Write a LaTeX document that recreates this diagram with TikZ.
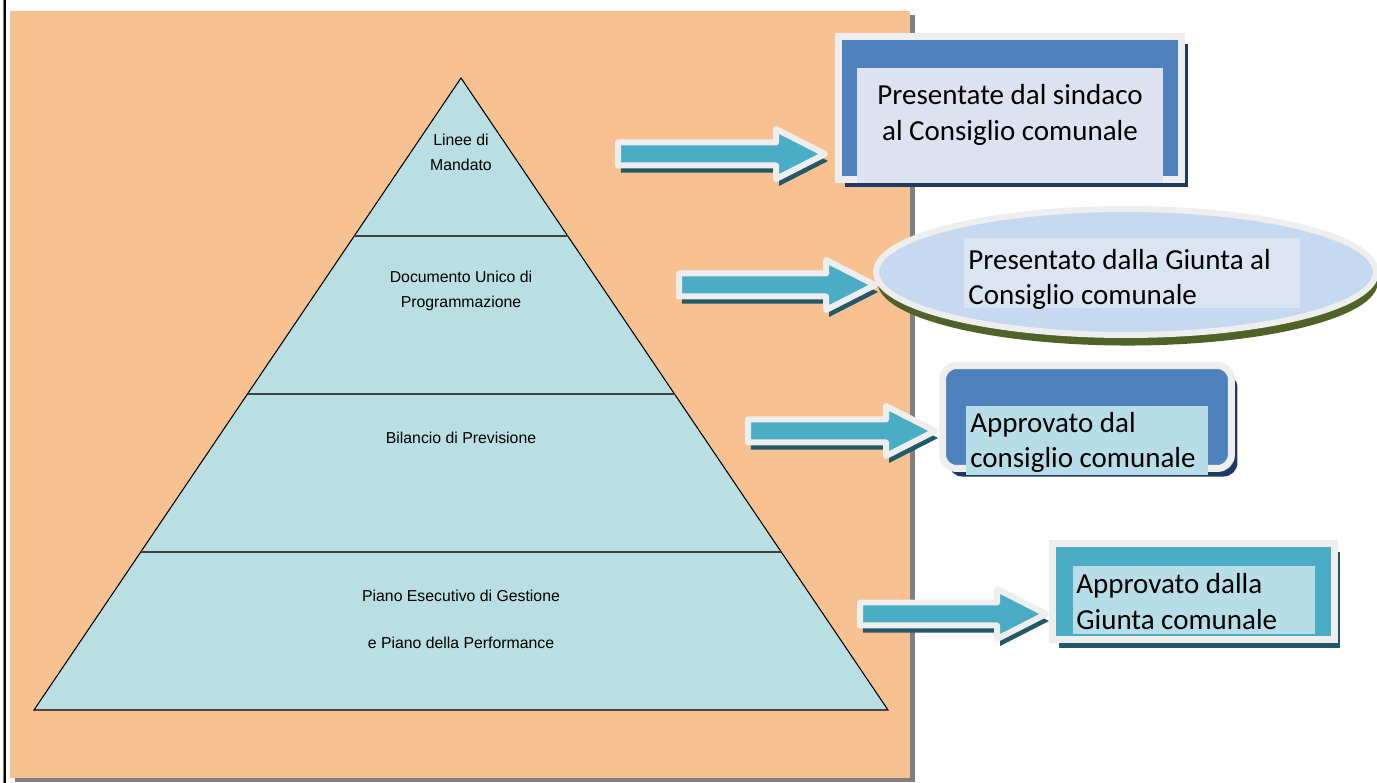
\documentclass[tikz,border=0pt]{standalone}
\usepackage{fontspec}
\setmainfont{Carlito}
\newfontfamily\pyrfont{Liberation Sans}
\usetikzlibrary{calc,positioning,shapes.geometric,shadows}
\definecolor{O}{HTML}{F8C191}
\definecolor{P}{HTML}{B9DFE2}
\definecolor{T}{HTML}{4BACC6}
\definecolor{TD}{HTML}{215968}
\definecolor{BL}{HTML}{4F81BD}
\definecolor{NV}{HTML}{1F3A60}
\definecolor{LV}{HTML}{DCE2EF}
\definecolor{LB}{HTML}{C6D9F1}
\definecolor{LB2}{HTML}{DBE5F1}
\definecolor{LT}{HTML}{B7DEE8}
\definecolor{GR}{HTML}{4F6228}
\definecolor{GY}{HTML}{EEEEEE}
\tikzstyle{layer} = [font=\pyrfont\fontsize{9}{14.2}\selectfont, align=center, inner sep=0pt]
\tikzstyle{boxtext} = [font=\fontsize{16.5}{20}\selectfont, inner sep=0pt]
\tikzstyle{frame} = [draw=GY, line width=0.14cm, inner sep=0pt]
\tikzstyle{panel} = [inner sep=0pt]
\tikzstyle{blockarr} = [fill=T, draw=GY, line width=0.12cm, line join=round,
  drop shadow={shadow xshift=1.7pt, shadow yshift=-4pt, fill=TD, opacity=1},
  to path={let \p1=(\tikztostart), \p2=(\tikztotarget) in
    (\x1,\y1+0.23cm) -- (\x2-0.98cm,\y1+0.23cm) -- (\x2-0.98cm,\y1+0.5cm) -- (\x2,\y1)
    -- (\x2-0.98cm,\y1-0.5cm) -- (\x2-0.98cm,\y1-0.23cm) -- (\x1,\y1-0.23cm) -- cycle}]

\begin{document}
\begin{tikzpicture}[x=0.02cm, y=-0.02cm]
  \useasboundingbox (0,0) rectangle (1377,783);

  % page background
  \fill[O, drop shadow={shadow xshift=2.8pt, shadow yshift=-2.3pt, fill=gray, opacity=1}] (10,11) rectangle (910,778);
  \draw[gray, line width=0.5pt] (3,0) -- (3,783);
  \draw[black, line width=0.6pt] (5,0) -- (5,783);

  % pyramid
  \coordinate (apex) at (461,78);
  \coordinate (bl)   at (34,710);
  \coordinate (br)   at (888,710);
  \draw[fill=P, line width=0.6pt] (apex) -- (bl) -- (br) -- cycle;
  \foreach \f in {0.25,0.5,0.75}
    \draw[black!75, line width=0.6pt] ($(apex)!\f!(bl)$) -- ($(apex)!\f!(br)$);

  \node[layer] (mandato)  at (461,152)   {Linee di\\Mandato};
  \node[layer] (dup)      at (461,291)   {Documento Unico di\\Programmazione};
  \node[layer] (bilancio) at (461,438)   {Bilancio di Previsione};
  \node[layer] (peg)      at (461,619.5) {Piano Esecutivo di Gestione\\[0.44cm]e Piano della Performance};

  % boxes
  \node[frame, fill=BL, minimum width=6.86cm, minimum height=2.86cm,
        drop shadow={shadow xshift=3.7pt, shadow yshift=-4.3pt, fill=NV, opacity=1}] (sindaco) at (1010,108) {};
  \node[panel, fill=LV, minimum width=6.12cm, minimum height=2.3cm] (sindacopanel) at (1010,125.5) {};
  \node[boxtext, align=center] (sindacotext) at (1010,115) {Presentate dal sindaco\\al Consiglio comunale};

  \node[frame, ellipse, fill=LB, line width=0.12cm, minimum width=10cm, minimum height=2.52cm,
        drop shadow={shadow xshift=1pt, shadow yshift=-6pt, fill=GR, opacity=1}] (giunta) at (1126,272) {};
  \node[panel, fill=LB2, minimum width=6.72cm, minimum height=1.4cm] (giuntapanel) at (1132,273) {};
  \node[boxtext, align=left, anchor=west] (giuntatext) at (968,279.5) {Presentato dalla Giunta al\\Consiglio comunale};

  \node[frame, fill=BL, rounded corners=0.28cm, minimum width=5.78cm, minimum height=2.06cm,
        drop shadow={shadow xshift=3.4pt, shadow yshift=-4.6pt, fill=NV, opacity=1}] (consiglio) at (1087,417) {};
  \node[panel, fill=LT, minimum width=4.84cm, minimum height=1.38cm] (consigliopanel) at (1087,440.5) {};
  \node[boxtext, align=left, anchor=west] (consigliotext) at (970,442.5) {Approvato dal\\consiglio comunale};

  \node[frame, fill=T, minimum width=5.64cm, minimum height=1.92cm,
        drop shadow={shadow xshift=3.4pt, shadow yshift=-4.6pt, fill=TD, opacity=1}] (giuntacom) at (1193.5,591.5) {};
  \node[panel, fill=LT, minimum width=4.84cm, minimum height=1.36cm] (giuntacompanel) at (1194,600) {};
  \node[boxtext, align=left, anchor=west] (giuntacomtext) at (1076,601.5) {Approvato dalla\\Giunta comunale};

  % arrows
  \coordinate (s1) at (618,154);
  \coordinate (s2) at (679,285);
  \coordinate (s3) at (748,431);
  \coordinate (s4) at (860,614);
  \coordinate (t1) at ($(s1 -| sindaco.west)+(-10,0)$);
  \coordinate (t2) at ($(s2 -| giunta.west)+(2,0)$);
  \coordinate (t3) at ($(s3 -| consiglio.west)+(-4,0)$);
  \coordinate (t4) at ($(s4 -| giuntacom.west)+(-3,0)$);

  \draw[blockarr] (s1) to (t1);
  \draw[blockarr] (s2) to (t2);
  \draw[blockarr] (s3) to (t3);
  \draw[blockarr] (s4) to (t4);
\end{tikzpicture}
\end{document}
